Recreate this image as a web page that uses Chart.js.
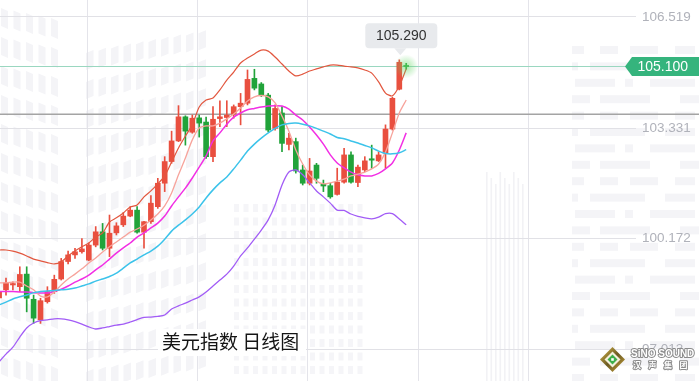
<!DOCTYPE html>
<html>
<head>
<meta charset="utf-8">
<script src="https://cdn.jsdelivr.net/npm/chart.js@4.4.1/dist/chart.umd.min.js"></script>
<style>html,body{margin:0;padding:0;background:#fff;}canvas{display:block;}</style>
</head>
<body>
<canvas id="c" width="699" height="381"></canvas>
<script>
// ---- data (US Dollar Index, daily candles) ----
const openP  = [98.48,98.71,98.85,98.80,99.16,98.44,97.85,98.37,98.66,99.02,99.52,99.71,99.80,99.56,99.99,100.37,99.90,100.34,100.57,100.82,100.99,100.36,100.66,101.09,101.76,102.38,102.97,103.66,103.22,103.63,103.51,102.52,103.61,103.64,103.74,103.95,104.05,104.76,104.60,104.28,103.33,103.77,102.87,102.95,102.14,101.76,102.28,101.73,101.69,101.44,101.79,102.57,101.78,102.14,102.46,102.40,102.62,103.31,104.45,105.11];
const highP  = [98.73,99.05,98.94,99.37,99.37,98.56,98.47,98.80,99.13,99.61,99.82,99.90,100.18,100.05,100.52,100.61,100.85,100.63,100.92,101.09,101.09,100.67,101.41,101.90,102.52,103.25,103.98,103.69,103.71,103.71,103.65,103.95,104.12,104.12,104.00,104.33,105.00,105.02,104.64,104.33,104.00,103.95,103.19,103.05,102.28,102.47,102.33,101.85,101.76,102.19,102.76,102.66,102.28,102.52,102.85,102.66,103.43,104.22,105.29,105.19];
const lowP   = [98.42,98.56,98.71,98.66,98.08,97.75,97.75,98.33,98.61,98.99,99.45,99.61,99.76,99.54,99.94,99.85,99.66,100.28,100.52,100.80,100.33,99.90,100.61,101.04,101.52,102.33,102.95,102.85,103.19,103.08,102.47,102.38,103.38,103.38,103.62,103.43,104.00,104.43,104.24,103.23,103.28,102.66,102.71,102.05,101.71,101.71,101.76,101.52,101.33,101.42,101.76,101.76,101.66,102.09,102.19,102.38,102.19,103.28,104.43,105.02];
const closeP = [98.65,98.91,98.89,99.15,98.47,97.90,98.40,98.66,99.01,99.52,99.71,99.80,99.88,99.99,100.37,99.90,100.33,100.54,100.82,100.99,100.36,100.66,101.19,101.76,102.38,102.97,103.66,103.25,103.62,103.48,102.52,103.59,103.66,103.71,103.95,104.05,104.73,104.48,104.28,103.28,103.90,102.90,103.05,102.11,101.76,102.11,101.90,101.68,101.37,101.79,102.57,101.79,102.22,102.40,102.42,102.57,103.31,104.19,105.22,105.10];

const bollUpper = [99.85,99.85,99.82,99.76,99.68,99.59,99.54,99.49,99.45,99.51,99.68,99.82,99.94,100.05,100.22,100.34,100.65,100.77,100.91,101.08,101.14,101.37,101.54,101.74,101.97,102.37,102.77,103.11,103.43,103.94,104.14,104.20,104.43,104.71,104.94,105.20,105.34,105.46,105.57,105.54,105.37,105.17,104.97,104.83,104.88,104.97,105.03,105.09,105.14,105.14,105.11,105.09,105.06,105.00,104.91,104.66,104.34,104.26,104.54,105.03];
const bollMid   = [98.28,98.36,98.45,98.51,98.56,98.63,98.66,98.68,98.69,98.71,98.73,98.76,98.82,98.88,98.96,99.02,99.09,99.19,99.33,99.48,99.59,99.71,99.82,99.96,100.16,100.39,100.56,100.71,100.88,101.08,101.34,101.57,101.77,101.94,102.17,102.42,102.68,102.88,103.05,103.20,103.33,103.43,103.47,103.48,103.45,103.40,103.33,103.25,103.17,103.07,103.03,102.97,102.91,102.84,102.77,102.68,102.61,102.60,102.63,102.72];
const bollLower = [96.65,96.87,97.07,97.36,97.62,97.76,97.83,97.85,97.88,97.88,97.85,97.80,97.73,97.65,97.59,97.62,97.66,97.70,97.73,97.79,97.86,97.92,97.93,97.95,97.99,98.16,98.25,98.33,98.42,98.51,98.65,98.82,98.99,99.16,99.39,99.68,99.91,100.16,100.42,100.71,101.14,101.71,102.08,102.14,102.00,101.77,101.54,101.37,101.19,100.99,100.98,100.88,100.81,100.77,100.74,100.79,100.89,100.89,100.74,100.57];
const ma5  = [98.91,98.91,98.93,98.93,98.82,98.71,98.53,98.51,98.65,98.85,99.02,99.16,99.31,99.48,99.62,99.79,99.94,100.08,100.22,100.36,100.45,100.56,100.71,100.88,101.11,101.48,102.00,102.48,103.00,103.34,103.40,103.40,103.48,103.60,103.74,103.91,104.11,104.23,104.27,104.23,104.06,103.68,103.25,102.71,102.31,102.00,101.82,101.74,101.77,101.82,101.88,101.97,102.02,102.08,102.17,102.31,102.65,103.20,103.77,104.14];
const ma10 = [98.66,98.66,98.66,98.65,98.65,98.63,98.62,98.62,98.66,98.73,98.82,98.93,99.02,99.13,99.28,99.42,99.59,99.76,99.91,100.05,100.22,100.34,100.48,100.62,100.82,101.11,101.37,101.62,101.91,102.22,102.54,102.97,103.20,103.45,103.65,103.77,103.86,103.90,103.94,103.97,103.98,103.97,103.88,103.71,103.57,103.37,103.14,102.88,102.57,102.34,102.20,102.08,102.00,101.97,101.97,102.04,102.17,102.34,102.71,103.20];

const yTickValues = [97.013, 100.172, 103.331, 106.519];
const xGridTicks = [12.75, 28.75, 44.75, 60.75, 76.75];
const lastPrice = 105.100;
const refLine = 103.73;
const highlightIndex = 58;
const chartTitle = '美元指数 日线图';

// ---- chart ----
const N = openP.length;
const idx = openP.map((_, i) => i);
const upColor = '#e94f3f', downColor = '#21a33a';
const candleColors = idx.map(i => closeP[i] >= openP[i] ? upColor : downColor);
const FONT = '"Liberation Sans", Arial, sans-serif';

function drawWatermark(c) {
  c.fillStyle = '#f4f4f7';
  for (let col = 0; col < 5; col++) {
    for (let row = 0; row < 13; row++) {
      const x = 1 + col * 12.5, y = 8 + row * 29 + col * 2.5;
      c.beginPath(); c.moveTo(x, y); c.lineTo(x + 7, y + 3); c.lineTo(x + 7, y + 21); c.lineTo(x, y + 18); c.closePath(); c.fill();
    }
  }
  for (let col = 0; col < 10; col++) {
    for (let row = 0; row < 12; row++) {
      const x = 86 + col * 12.5, y = 50 + row * 29 - col * 2.2;
      c.beginPath(); c.moveTo(x, y + 3); c.lineTo(x + 7.5, y); c.lineTo(x + 7.5, y + 17); c.lineTo(x, y + 20); c.closePath(); c.fill();
    }
  }
  c.fillStyle = '#f5f5f8';
  for (let col = 0; col < 14; col++) {
    for (let row = 0; row < 13; row++) {
      c.fillRect(234 + col * 9.5, 204 + row * 13.5, 5, 8);
    }
  }
  c.fillStyle = '#f4f4f7';
  const segs = [[[572,12],[600,18],[630,28],[675,20]], [[572,6],[590,55],[665,30]], [[575,40],[625,8],[650,45]], [[572,18],[600,50],[680,19]]];
  for (let r = 0; r < 21; r++) {
    const y = 46 + r * 16.4;
    for (const [x, w] of segs[r % 4]) c.fillRect(x, y, w, 8);
  }
  c.fillStyle = '#f2f2f5';
  for (let k = 0; k < 9; k++) c.fillRect(486 + k * 4.5, 172 + (k % 3) * 6, 1.6, 210);
}

const bgPlugin = {
  id: 'bg',
  beforeDraw(chart) {
    const c = chart.ctx;
    c.save();
    c.fillStyle = '#ffffff';
    c.fillRect(0, 0, chart.width, chart.height);
    drawWatermark(c);
    c.restore();
  }
};

function roundRect(c, x, y, w, h, r) {
  c.beginPath();
  c.moveTo(x + r, y); c.lineTo(x + w - r, y); c.quadraticCurveTo(x + w, y, x + w, y + r);
  c.lineTo(x + w, y + h - r); c.quadraticCurveTo(x + w, y + h, x + w - r, y + h);
  c.lineTo(x + r, y + h); c.quadraticCurveTo(x, y + h, x, y + h - r);
  c.lineTo(x, y + r); c.quadraticCurveTo(x, y, x + r, y); c.closePath();
}

const overlayPlugin = {
  id: 'overlay',
  beforeDatasetsDraw(chart) {
    const {ctx: c, scales: {y}} = chart;
    c.save();
    const yr = y.getPixelForValue(refLine);
    c.strokeStyle = '#a4a4a4'; c.lineWidth = 1.5;
    c.beginPath(); c.moveTo(0, yr); c.lineTo(chart.width, yr); c.stroke();
    const yl = y.getPixelForValue(lastPrice);
    c.strokeStyle = '#9ad7c0'; c.lineWidth = 1.2;
    c.beginPath(); c.moveTo(0, yl); c.lineTo(chart.width - 70, yl); c.stroke();
    c.restore();
  },
  afterDraw(chart) {
    const {ctx: c, scales: {x, y}} = chart;
    c.save();
    // glow at the last price
    const xl = x.getPixelForValue(N - 1), yl = y.getPixelForValue(lastPrice);
    const g = c.createRadialGradient(xl, yl, 0, xl, yl, 12);
    g.addColorStop(0, 'rgba(100,215,100,0.55)'); g.addColorStop(1, 'rgba(100,215,100,0)');
    c.fillStyle = g; c.beginPath(); c.arc(xl, yl, 12, 0, Math.PI * 2); c.fill();
    // last price tag
    c.fillStyle = '#35b47d';
    c.beginPath(); c.moveTo(625, yl); c.lineTo(632, yl - 9.5); c.lineTo(chart.width, yl - 9.5);
    c.lineTo(chart.width, yl + 9.5); c.lineTo(632, yl + 9.5); c.closePath(); c.fill();
    c.fillStyle = '#ffffff'; c.font = '14px ' + FONT; c.textBaseline = 'middle'; c.textAlign = 'left';
    c.fillText(lastPrice.toFixed(3), 637.5, yl + 0.5);
    // tooltip bubble at the highlighted high
    const hx = x.getPixelForValue(highlightIndex), hy = y.getPixelForValue(highP[highlightIndex]);
    const tipY = hy - 4.5, bw = 72, bh = 25, bx = hx + 2 - bw / 2, by = tipY - 7 - bh;
    c.fillStyle = '#e8eaed';
    roundRect(c, bx, by, bw, bh, 4); c.fill();
    c.beginPath(); c.moveTo(hx + 1 - 6, by + bh); c.lineTo(hx + 1, tipY); c.lineTo(hx + 1 + 6, by + bh); c.closePath(); c.fill();
    c.fillStyle = '#333333'; c.font = '14px ' + FONT; c.textAlign = 'center';
    c.fillText(highP[highlightIndex].toFixed(3), bx + bw / 2, by + bh / 2 + 0.5);
    // title
    c.fillStyle = '#ffffff'; c.fillRect(158, 329, 148, 27);
    c.fillStyle = '#151515'; c.font = '19px "Noto Sans CJK SC"'; c.textAlign = 'left'; c.textBaseline = 'middle';
    c.fillText(chartTitle, 162, 342);
    // logo
    const lx = 612.5, ly = 359.5;
    const lg = c.createLinearGradient(lx - 12, ly - 12, lx + 12, ly + 12);
    lg.addColorStop(0, '#d9b84a'); lg.addColorStop(0.5, '#6b5a22'); lg.addColorStop(1, '#c9a23a');
    c.fillStyle = lg;
    c.beginPath(); c.moveTo(lx, ly - 12.5); c.lineTo(lx + 12.5, ly); c.lineTo(lx, ly + 12.5); c.lineTo(lx - 12.5, ly); c.closePath(); c.fill();
    c.fillStyle = '#f4f0dc';
    c.beginPath(); c.moveTo(lx, ly - 8); c.lineTo(lx + 8, ly); c.lineTo(lx, ly + 8); c.lineTo(lx - 8, ly); c.closePath(); c.fill();
    c.fillStyle = '#3daf4a';
    c.beginPath(); c.moveTo(lx, ly - 5); c.lineTo(lx + 5, ly); c.lineTo(lx, ly + 5); c.lineTo(lx - 5, ly); c.closePath(); c.fill();
    c.fillStyle = '#ffffff'; c.fillRect(lx - 1.3, ly - 1.3, 2.6, 2.6);
    c.textAlign = 'left'; c.textBaseline = 'middle';
    c.font = 'bold 10px ' + FONT; c.lineWidth = 2; c.strokeStyle = '#8a8a8a'; c.lineJoin = 'round';
    c.strokeText('SiNO SOUND', 631, 354); c.fillStyle = '#ffffff'; c.fillText('SiNO SOUND', 631, 354);
    c.font = 'bold 8px "Noto Sans CJK SC"';
    ['汉', '声', '集', '团'].forEach((ch, k) => {
      c.strokeText(ch, 633 + k * 15.5, 364.5); c.fillText(ch, 633 + k * 15.5, 364.5);
    });
    c.restore();
  }
};

function lineDs(label, arr, color, width) {
  return { type: 'line', label, data: idx.map(i => ({x: i, y: arr[i]})), borderColor: color, borderWidth: width,
           pointRadius: 0, tension: 0.25, fill: false, order: 0 };
}

new Chart(document.getElementById('c'), {
  type: 'bar',
  data: {
    datasets: [
      lineDs('BOLL UP', bollUpper, '#e2573f', 1.2),
      lineDs('BOLL MID', bollMid, '#3cc3ea', 1.5),
      lineDs('BOLL LOW', bollLower, '#a25cf6', 1.3),
      lineDs('MA5', ma5, '#f7a39b', 1.3),
      lineDs('MA10', ma10, '#f22fe4', 1.5),
      { type: 'bar', label: 'wick', data: idx.map(i => ({x: i, y: [lowP[i], highP[i]]})), backgroundColor: candleColors,
        barThickness: 1, maxBarThickness: 1, grouped: false, borderWidth: 0, order: 2 },
      { type: 'bar', label: 'body', data: idx.map(i => ({x: i, y: [openP[i], closeP[i]]})), backgroundColor: candleColors,
        barThickness: 5, maxBarThickness: 5, grouped: false, minBarLength: 1, borderWidth: 0, order: 1 }
    ]
  },
  options: {
    responsive: false, animation: false, devicePixelRatio: 1,
    layout: { padding: 0 },
    plugins: { legend: { display: false }, tooltip: { enabled: false } },
    scales: {
      x: {
        type: 'linear', min: 0.1304, max: 92.304, offset: false, bounds: 'data', grace: 0,
        afterBuildTicks(s) { s.ticks = xGridTicks.map(v => ({value: v})); },
        afterFit(s) { s.height = 0; s.paddingLeft = 0; s.paddingRight = 0; },
        ticks: { display: false },
        grid: { color: '#e4e4ea', lineWidth: 1, drawTicks: false, offset: false },
        border: { display: false }
      },
      y: {
        position: 'right', min: 96.102, max: 107.002,
        afterBuildTicks(s) { s.ticks = yTickValues.map(v => ({value: v})); },
        afterFit(s) { s.width = 63; s.paddingTop = 0; s.paddingBottom = 0; },
        ticks: { padding: 6, color: '#b0b2ba', font: { family: FONT, size: 13.5 }, callback: v => Number(v).toFixed(3) },
        grid: { color: '#e1e1e6', lineWidth: 1, drawTicks: false },
        border: { display: false }
      }
    }
  },
  plugins: [bgPlugin, overlayPlugin]
});
</script>
</body>
</html>
